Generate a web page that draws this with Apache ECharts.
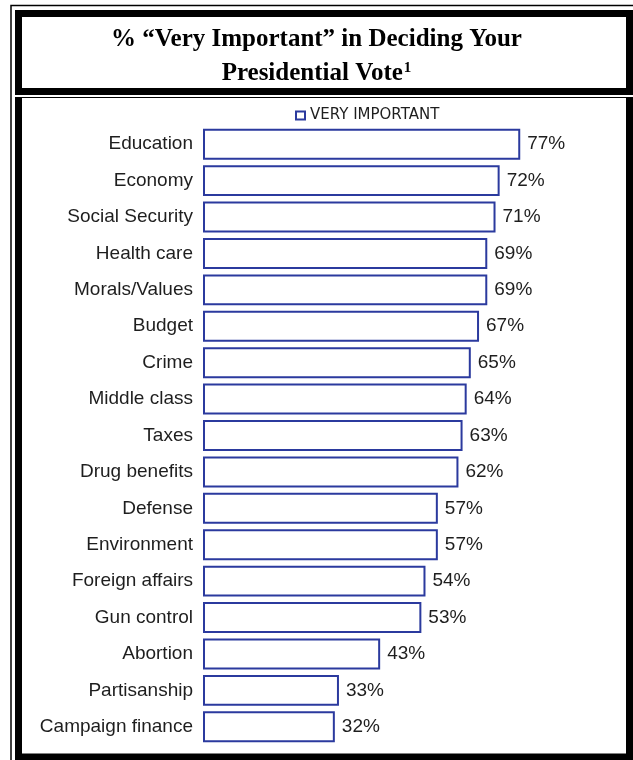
<!DOCTYPE html>
<html>
<head>
<meta charset="utf-8">
<title>Very Important</title>
<script src="https://cdn.jsdelivr.net/npm/echarts@6/dist/echarts.min.js"></script>
<style>
    html, body { margin: 0; padding: 0; background: #fff; }
    #main { width: 633px; height: 760px; }
</style>
</head>
<body>
<div id="main"></div>
<script>
    // data
    var categories = ['Education', 'Economy', 'Social Security', 'Health care', 'Morals/Values', 'Budget',
        'Crime', 'Middle class', 'Taxes', 'Drug benefits', 'Defense', 'Environment',
        'Foreign affairs', 'Gun control', 'Abortion', 'Partisanship', 'Campaign finance'];
    var values = [77, 72, 71, 69, 69, 67, 65, 64, 63, 62, 57, 57, 54, 53, 43, 33, 32];
    var seriesName = 'VERY IMPORTANT';

    var blue = '#2b3a9e',
        ink = '#1e1e1e';

    var myChart = echarts.init(document.getElementById('main'));

    var option = {
        backgroundColor: '#fff',
        animation: false,
        title: {
            text: '% \u201cVery Important\u201d in Deciding Your\nPresidential Vote{sup|1}',
            left: 'center',
            top: 18,
            textStyle: {
                fontFamily: 'Liberation Serif',
                fontWeight: 'bold',
                fontSize: 25,
                lineHeight: 34,
                color: '#000',
                rich: {
                    sup: {
                        fontFamily: 'Liberation Serif',
                        fontWeight: 'bold',
                        fontSize: 15,
                        color: '#000',
                        padding: [0, 0, 12, 1]
                    }
                }
            }
        },
        legend: {
            left: 290,
            top: 103,
            icon: 'rect',
            itemWidth: 9,
            itemHeight: 8,
            textStyle: {
                fontFamily: 'DejaVu Sans',
                fontSize: 15,
                color: ink
            },
            data: [seriesName]
        },
        grid: {
            left: 203,
            right: 18,
            top: 126,
            bottom: 15,
            containLabel: false
        },
        xAxis: {
            type: 'value',
            min: 0,
            max: 100,
            show: false
        },
        yAxis: {
            type: 'category',
            inverse: true,
            data: categories,
            axisLine: { show: false },
            axisTick: { show: false },
            splitLine: { show: false },
            axisLabel: {
                margin: 10,
                fontFamily: 'Liberation Sans',
                fontSize: 19,
                color: ink
            }
        },
        series: [{
            name: seriesName,
            type: 'bar',
            data: values,
            barCategoryGap: '15%',
            itemStyle: {
                color: '#fff',
                borderColor: blue,
                borderWidth: 2
            },
            label: {
                show: true,
                position: 'right',
                distance: 7,
                fontFamily: 'Liberation Sans',
                fontSize: 19,
                color: ink,
                formatter: '{c}%'
            }
        }],
        graphic: [
            // outer thin frame
            {
                type: 'polyline', silent: true,
                shape: { points: [[11, 760], [11, 5.5], [633, 5.5]] },
                style: { fill: null, stroke: '#000', lineWidth: 1.5 }
            },
            // title box
            {
                type: 'rect', silent: true,
                shape: { x: 18.5, y: 13.5, width: 611, height: 78 },
                style: { fill: null, stroke: '#000', lineWidth: 7 }
            },
            // chart panel
            {
                type: 'line', silent: true,
                shape: { x1: 15, y1: 97.5, x2: 633, y2: 97.5 },
                style: { stroke: '#000', lineWidth: 1 }
            },
            {
                type: 'polyline', silent: true,
                shape: { points: [[18.5, 97], [18.5, 757], [629.5, 757], [629.5, 97]] },
                style: { fill: null, stroke: '#000', lineWidth: 7 }
            }
        ]
    };
    myChart.setOption(option);
</script>
</body>
</html>
